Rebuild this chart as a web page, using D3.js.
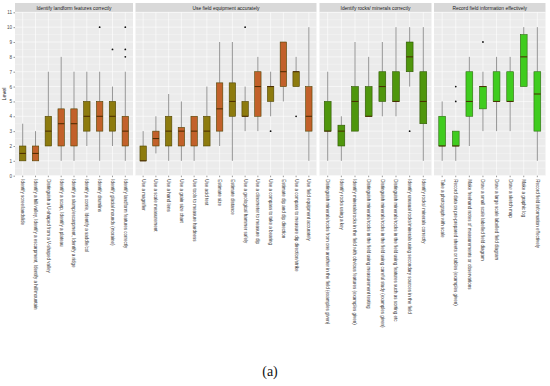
<!DOCTYPE html>
<html><head><meta charset="utf-8">
<script src="https://cdn.jsdelivr.net/npm/d3@7"></script>
<style>html,body{margin:0;padding:0;background:#fff;}svg{display:block;}</style>
</head><body>
<svg id="chart" width="550" height="386"></svg>
<script>
// ---------------- DATA ----------------
const panelTitles = ["Identify landform features correctly", "Use field equipment accurately", "Identify rocks/ minerals correctly", "Record field information effectively"];

const landformCats = ["Identify scree/landslide", "Identify a hill/valley, Identify a escarpment, Identify a hill/mountain", "Distinguish a U-shaped from a V-shaped valley", "Identify a scarp, Identify a plateau", "Identify a slump/escarpment, Identify a ridge", "Identify a corrie, Identify a saddle/col", "Identify drumlins", "Identify glacial mounds (moraine)", "Identify landform features correctly"];
const equipCats = ["Use a magnifier", "Use a scale measurement", "Use a hand lens", "Use a grain size chart", "Use tools to measure hardness", "Use acid test", "Estimate size", "Estimate distance", "Use a geological hammer safely", "Use a clinometer to measure dip", "Use a compass to take a bearing", "Estimate dip and dip direction", "Use a compass to measure dip direction/strike", "Use field equipment accurately"];
const rockCats = ["Distinguish minerals/rocks from one another in the field (examples given)", "Identify rocks using a key", "Identify minerals/rocks in the field with obvious features (examples given)", "Distinguish minerals/rocks in the field using measurement testing", "Distinguish minerals/rocks in the field using careful study (examples given)", "Distinguish minerals/rocks in the field using features such as sorting etc", "Identify unusual rocks/minerals using secondary sources in the field", "Identify rocks/ minerals correctly"];
const recordCats = ["Take a photograph with scale", "Record data on pre-prepared sheets or tables (examples given)", "Make freehand notes of measurements or observations", "Draw a small scale labelled field diagram", "Draw a large scale labelled field diagram", "Draw a sketch map", "Make a graphic log", "Record field information effectively"];

// [min, q1, median, q3, max]
const landformStats = [[1,1,1.5,2,3.5],[1,1,1.5,2,3],[2,2,3,4,7],[1,2,3.5,4.5,8],[1,2,3.5,4.5,7],[2,3,4,5,7],[1,3,4,5,7],[2,3,4,5,6],[1,2,3,4,7]];
const equipStats = [[1,1,1,2,3],[1.5,2,2.5,3,4],[1,2,3,4,5.5],[1,2,3,3.25,5],[1,2,3,4,4],[2,2,3,4,6],[2,3,4.5,6.25,9],[1,4,5,6.25,9],[3,4,4,5,6],[3,4,6,7,8],[4,5,6,6,7],[5,6,7,9,9],[6,6,7,7,8],[1,3,4,6,10]];
const rockStats = [[1,3,3,5,7],[1,2,3,3.4,4],[3,3,5,6,9],[4,4,4,6,8],[4,5,6,7,9],[4,5,5,7,10],[6,7,8,9,10],[1,3.5,5,7,10]];
const recordStats = [[1,2,2,4,5],[1,2,2,3,3],[2,4,5,7,8],[3,4.5,6,6,7],[3,5,5,7,8],[3,5,5,7,8],[6,6,8,9.5,10],[1,3,5.5,7,10]];

const landformOutliers = [[],[],[],[],[],[],[10],[8.5],[8,8.5,10]];
const equipOutliers = [[],[],[],[],[],[],[],[],[10],[],[3],[],[4],[]];
const rockOutliers = [[],[],[],[],[],[],[3],[]];
const recordOutliers = [[],[5,6],[],[9],[],[],[],[]];

const yTicks = [0,1,2,3,4,5,6,7,8,9,10,11];

// ---------------- STYLE ----------------
const panelX = [[15,133],[135.5,316.5],[319.5,431.5],[434,545.5]];
const panelColors = ["#8d7b0e","#8d7b0e","#4f960c","#3fcc1e"];
const orangeFill = "#c2612a";
const orangeIdx = [[1,3,4,6,8],[1,3,4,6,9,11,13],[],[]];
const strokeCols = ["#4e4300","#4e4300","#2c5500","#2d6a10"];

const panels = [
  {cats: landformCats, stats: landformStats, out: landformOutliers},
  {cats: equipCats, stats: equipStats, out: equipOutliers},
  {cats: rockCats, stats: rockStats, out: rockOutliers},
  {cats: recordCats, stats: recordStats, out: recordOutliers}
];

const svg = d3.select("#chart");
const plotTop = 12.3, plotBottom = 175.7;
const y = d3.scaleLinear().domain([0,11]).range([plotBottom, plotTop]);

// y axis labels
const yAxisG = svg.append("g").attr("transform", `translate(${panelX[0][0]},0)`);
yAxisG.call(d3.axisLeft(y).tickValues(yTicks).tickSize(1.5).tickPadding(1.5))
  .call(g => g.select(".domain").remove())
  .call(g => g.selectAll("line").attr("stroke","#333").attr("stroke-width",0.5))
  .call(g => g.selectAll("text").attr("font-family","Liberation Sans, Arial, sans-serif").attr("font-size","4.6px").attr("fill","#4d4d4d"));

svg.append("text").attr("transform", `translate(6,${(plotTop+plotBottom)/2}) rotate(-90)`)
  .attr("text-anchor","middle").attr("font-family","Liberation Sans, Arial, sans-serif")
  .attr("font-size","5.5px").attr("fill","#1a1a1a").text("Level");

panels.forEach((p, pi) => {
  const [x0, x1] = panelX[pi];
  const x = d3.scalePoint().domain(p.cats).range([x0, x1]).padding(0.6);
  const step = x.step();
  const bw = step * 0.5;
  const g = svg.append("g");

  // strip
  g.append("rect").attr("x", x0).attr("y", 3).attr("width", x1-x0).attr("height", plotTop-3).attr("fill","#d9d9d9");
  g.append("text").attr("x",(x0+x1)/2).attr("y", 9.6).attr("text-anchor","middle")
    .attr("font-family","Liberation Sans, Arial, sans-serif").attr("font-size","4.9px").attr("fill","#1a1a1a")
    .text(panelTitles[pi]);

  // panel background
  g.append("rect").attr("x", x0).attr("y", plotTop).attr("width", x1-x0).attr("height", plotBottom-plotTop).attr("fill","#ebebeb");

  // minor grid
  const minor = d3.range(0.5, 11, 1);
  g.selectAll(".ymin").data(minor).join("line").attr("x1",x0).attr("x2",x1)
    .attr("y1",d=>y(d)).attr("y2",d=>y(d)).attr("stroke","#fff").attr("stroke-width",0.3);
  // major grid
  g.selectAll(".ymaj").data(yTicks).join("line").attr("x1",x0).attr("x2",x1)
    .attr("y1",d=>y(d)).attr("y2",d=>y(d)).attr("stroke","#fff").attr("stroke-width",0.6);
  g.selectAll(".xmaj").data(p.cats).join("line").attr("x1",d=>x(d)).attr("x2",d=>x(d))
    .attr("y1",plotTop).attr("y2",plotBottom).attr("stroke","#fff").attr("stroke-width",0.6);

  // boxes
  p.cats.forEach((c, i) => {
    const s = p.stats[i];
    const cx = x(c);
    const fill = orangeIdx[pi].includes(i) ? orangeFill : panelColors[pi];
    const sc = strokeCols[pi];
    g.append("line").attr("x1",cx).attr("x2",cx).attr("y1",y(s[4])).attr("y2",y(s[3])).attr("stroke","#6b6b6b").attr("stroke-width",0.7);
    g.append("line").attr("x1",cx).attr("x2",cx).attr("y1",y(s[1])).attr("y2",y(s[0])).attr("stroke","#6b6b6b").attr("stroke-width",0.7);
    const qt = Math.max(s[3], s[1]), qb = Math.min(s[3], s[1]);
    g.append("rect").attr("x",cx-bw/2).attr("y",y(qt)).attr("width",bw).attr("height",Math.max(0.5,y(qb)-y(qt)))
      .attr("fill",fill).attr("stroke",sc).attr("stroke-width",0.6);
    g.append("line").attr("x1",cx-bw/2).attr("x2",cx+bw/2).attr("y1",y(s[2])).attr("y2",y(s[2]))
      .attr("stroke","#4a2a00").attr("stroke-width",1);
    p.out[i].forEach(o => {
      g.append("circle").attr("cx",cx).attr("cy",y(o)).attr("r",0.9).attr("fill","#111");
    });
  });

  // x ticks and labels
  g.selectAll(".xt").data(p.cats).join("line").attr("x1",d=>x(d)).attr("x2",d=>x(d))
    .attr("y1",plotBottom).attr("y2",plotBottom+1.5).attr("stroke","#333").attr("stroke-width",0.5);
  g.selectAll(".xl").data(p.cats).join("text")
    .attr("transform", d => `translate(${x(d)-1.6},${plotBottom+3.5}) rotate(90)`)
    .attr("text-anchor","start").attr("font-family","Liberation Sans, Arial, sans-serif")
    .attr("font-size","4.5px").attr("fill","#333").text(d=>d);
});

svg.append("text").attr("x",270).attr("y",376).attr("text-anchor","middle")
  .attr("font-family","Liberation Serif, DejaVu Serif, serif").attr("font-size","14px").attr("fill","#111")
  .text("(a)");
</script>
</body></html>
